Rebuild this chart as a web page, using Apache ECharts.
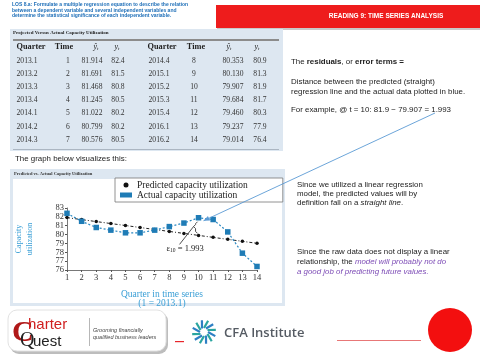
<!DOCTYPE html>
<html>
<head>
<meta charset="utf-8">
<script src="https://cdn.jsdelivr.net/npm/echarts@6/dist/echarts.min.js"></script>
<style>
html, body { margin: 0; padding: 0; background: #fff; }
#main { width: 480px; height: 360px; }
</style>
</head>
<body>
<div id="main"></div>
<script>
// table / chart data
var quarters = ['2013.1', '2013.2', '2013.3', '2013.4', '2014.1', '2014.2', '2014.3',
                '2014.4', '2015.1', '2015.2', '2015.3', '2015.4', '2016.1', '2016.2'];
var times = [1, 2, 3, 4, 5, 6, 7, 8, 9, 10, 11, 12, 13, 14];
var predicted = [81.914, 81.691, 81.468, 81.245, 81.022, 80.799, 80.576,
                 80.353, 80.130, 79.907, 79.684, 79.460, 79.237, 79.014];
var actual = [82.4, 81.5, 80.8, 80.5, 80.2, 80.2, 80.5,
              80.9, 81.3, 81.9, 81.7, 80.3, 77.9, 76.4];

var chart = echarts.init(document.getElementById('main'));

var serif = '"Liberation Serif", "DejaVu Serif", serif';
var sans = '"Liberation Sans", Arial, sans-serif';
var blueLine = '#2a88c2';
var blueText = '#3a9fd6';
var panelBg = '#dde7f1';
var bodyFont = '7.9px ' + sans;

function txt(x, y, text, style, extra) {
    var s = Object.assign({
        x: x, y: y, text: text,
        font: bodyFont, fill: '#222',
        textAlign: 'left', textVerticalAlign: 'middle'
    }, style || {});
    return Object.assign({ type: 'text', style: s, z: 5 }, extra || {});
}

var graphic = [];

// header
var los = ['LOS 8.a: Formulate a multiple regression equation to describe the relation',
           'between a dependent variable and several independent variables and',
           'determine the statistical significance of each independent variable.'];
los.forEach(function (l, i) {
    graphic.push(txt(12, 4.5 + i * 5.7, l, { font: 'bold 5px ' + sans, fill: '#1f6fb8' }));
});
graphic.push({ type: 'rect', shape: { x: 217, y: 7, width: 263, height: 23 }, style: { fill: '#c9c9c9' }, z: 1 });
graphic.push({ type: 'rect', shape: { x: 216, y: 5, width: 264, height: 23 }, style: { fill: '#ee1c1c' }, z: 2 });
graphic.push(txt(386, 16, 'READING 9: TIME SERIES ANALYSIS', { font: 'bold 6.5px ' + sans, fill: '#fff', textAlign: 'center' }));

// table panel
graphic.push({ type: 'rect', shape: { x: 10, y: 29, width: 273, height: 122 }, style: { fill: panelBg }, z: 1 });
graphic.push(txt(13, 33, 'Projected Versus Actual Capacity Utilization', { font: 'bold 5px ' + serif, fill: '#222' }));
graphic.push({ type: 'rect', shape: { x: 13, y: 39, width: 266, height: 2 }, style: { fill: '#8c8c8c' }, z: 2 });
graphic.push({ type: 'rect', shape: { x: 13, y: 149, width: 266, height: 0.8 }, style: { fill: '#9aa6b2' }, z: 2 });

var headCols = [31, 64, 96, 117, 162, 196, 229, 257];
var dataCols = [27, 68, 92, 118, 159, 194, 233, 260];
var heads = ['Quarter', 'Time', 'yhat', 'y', 'Quarter', 'Time', 'yhat', 'y'];
heads.forEach(function (h, i) {
    var t;
    if (h === 'yhat') t = '{i|ŷ}{s|t}';
    else if (h === 'y') t = '{i|y}{s|t}';
    else t = h;
    graphic.push({
        type: 'text', z: 5,
        style: {
            x: headCols[i], y: 47, text: t, textAlign: 'center', textVerticalAlign: 'middle',
            font: 'bold 8.3px ' + serif, fill: '#222',
            rich: {
                i: { fontFamily: serif, fontStyle: 'italic', fontSize: 8, fill: '#222' },
                s: { fontFamily: serif, fontStyle: 'italic', fontSize: 4.8, fill: '#222', padding: [4, 0, 0, 0] }
            }
        }
    });
});
for (var r = 0; r < 7; r++) {
    var yRow = 61 + r * 13.1;
    [r, r + 7].forEach(function (k, half) {
        var c = half * 4;
        var cells = [quarters[k], String(times[k]), predicted[k].toFixed(3), actual[k].toFixed(1)];
        cells.forEach(function (v, j) {
            graphic.push(txt(dataCols[c + j], yRow, v, { font: '7.6px ' + serif, fill: '#333', textAlign: 'center' }));
        });
    });
}

graphic.push(txt(15, 159, 'The graph below visualizes this:', { font: bodyFont, fill: '#222' }));

// chart panel
graphic.push({ type: 'rect', shape: { x: 10, y: 169, width: 275, height: 137 }, style: { fill: panelBg }, z: 0 });
graphic.push({ type: 'rect', shape: { x: 13, y: 179, width: 269, height: 124 }, style: { fill: '#fff' }, z: 0 });
graphic.push(txt(14, 174, 'Predicted vs. Actual Capacity Utilization', { font: 'bold 4.5px ' + serif, fill: '#333' }));

// right text
var rt = 291;
graphic.push(txt(rt, 62, 'The {b|residuals}, or {b|error terms =}', {
    rich: { b: { fontFamily: sans, fontWeight: 'bold', fontSize: 7.9, fill: '#222' } }
}));
graphic.push(txt(rt, 82, 'Distance between the predicted (straight)'));
graphic.push(txt(rt, 92, 'regression line and the actual data plotted in blue.'));
graphic.push(txt(rt, 110, 'For example, @ t = 10: 81.9 \u2212 79.907 = 1.993'));
var rt2 = 297;
graphic.push(txt(rt2, 185, 'Since we utilized a linear regression'));
graphic.push(txt(rt2, 194, 'model, the predicted values will by'));
graphic.push(txt(rt2, 203, 'definition fall on a {i|straight line}.', {
    rich: { i: { fontFamily: sans, fontStyle: 'italic', fontSize: 7.9, fill: '#222' } }
}));
graphic.push(txt(rt2, 252, 'Since the raw data does not display a linear'));
graphic.push(txt(rt2, 262, 'relationship, the {p|model will probably not do}', {
    rich: { p: { fontFamily: sans, fontStyle: 'italic', fontSize: 7.9, fill: '#7d4cb6' } }
}));
graphic.push(txt(rt2, 272, '{p|a good job of predicting future values.}', {
    rich: { p: { fontFamily: sans, fontStyle: 'italic', fontSize: 7.9, fill: '#7d4cb6' } }
}));

// footer: CharterQuest badge
graphic.push({ type: 'rect', shape: { x: 10, y: 312, width: 158, height: 42, r: 9 }, style: { fill: '#bdbdbd' }, z: 1 });
graphic.push({ type: 'rect', shape: { x: 8, y: 310, width: 158, height: 41, r: 9 }, style: { fill: '#fff', stroke: '#e2e2e2' }, z: 2 });
graphic.push(txt(12, 333, 'C', { font: 'bold 30px ' + serif, fill: '#b01818' }));
graphic.push(txt(28, 325, 'harter', { font: '15px ' + sans, fill: '#d01f1f' }));
graphic.push(txt(20, 341, 'Q', { font: '20px ' + serif, fill: '#222' }));
graphic.push(txt(33, 342, 'uest', { font: '15px ' + sans, fill: '#222' }));
graphic.push({ type: 'rect', shape: { x: 89, y: 318, width: 0.7, height: 28 }, style: { fill: '#999' }, z: 5 });
graphic.push(txt(93, 330, 'Grooming financially', { font: 'italic 5.5px ' + sans, fill: '#444' }));
graphic.push(txt(93, 337, 'qualified business leaders', { font: 'italic 5.5px ' + sans, fill: '#444' }));

// red dash, CFA logo, red line, red dot
graphic.push({ type: 'rect', shape: { x: 175, y: 341, width: 9, height: 1.2 }, style: { fill: '#e8262b' }, z: 2 });
for (var k = 0; k < 12; k++) {
    var ang = k * Math.PI / 6;
    graphic.push({
        type: 'line', z: 3,
        shape: {
            x1: 204 + 4 * Math.cos(ang), y1: 332 + 4 * Math.sin(ang),
            x2: 204 + 12 * Math.cos(ang + 0.35), y2: 332 + 12 * Math.sin(ang + 0.35)
        },
        style: { stroke: k % 2 ? '#2aa5a0' : '#2e7fc4', lineWidth: 2.2 }
    });
}
graphic.push(txt(224, 333, 'CFA Institute', { font: '600 13px "Open Sans", ' + sans, fill: '#555b63' }));
graphic.push({ type: 'rect', shape: { x: 337, y: 340, width: 84, height: 0.8 }, style: { fill: '#e04a4a' }, z: 2 });
graphic.push({ type: 'circle', shape: { cx: 450, cy: 330, r: 22 }, style: { fill: '#f30f0f' }, z: 2 });

var option = {
    animation: false,
    backgroundColor: '#fff',
    legend: {
        orient: 'vertical',
        left: 115,
        top: 178,
        padding: [2, 35, 2, 5],
        itemGap: 0,
        itemWidth: 12,
        itemHeight: 5,
        backgroundColor: '#fff',
        borderColor: '#777',
        borderWidth: 0.8,
        borderRadius: 0,
        textStyle: { fontFamily: serif, fontSize: 9.5, color: '#222', lineHeight: 9 },
        data: [
            { name: 'Predicted capacity utilization', icon: 'circle' },
            { name: 'Actual capacity utilization', icon: 'rect' }
        ]
    },
    grid: { left: 67, right: 223, top: 208, bottom: 90 },
    xAxis: {
        type: 'value',
        min: 1,
        max: 14,
        interval: 1,
        name: 'Quarter in time series\n(1 = 2013.1)',
        nameLocation: 'middle',
        nameGap: 20,
        nameTextStyle: { fontFamily: serif, fontSize: 9.5, color: blueText, lineHeight: 9 },
        axisLine: { lineStyle: { color: '#555', width: 0.8 } },
        axisTick: { length: 2, lineStyle: { color: '#555' } },
        axisLabel: { fontFamily: serif, fontSize: 8.5, color: '#333', margin: 3 },
        splitLine: { show: false }
    },
    yAxis: {
        type: 'value',
        min: 76,
        max: 83,
        interval: 1,
        name: 'Capacity\nutilization',
        nameLocation: 'middle',
        nameGap: 32,
        nameTextStyle: { fontFamily: serif, fontSize: 8, color: blueText, lineHeight: 11 },
        axisLine: { show: true, lineStyle: { color: '#555', width: 0.8 } },
        axisTick: { show: true, length: 2, lineStyle: { color: '#555' } },
        axisLabel: { fontFamily: serif, fontSize: 8.5, color: '#333', margin: 3 },
        splitLine: { show: false }
    },
    series: [
        {
            name: 'Predicted capacity utilization',
            type: 'line',
            symbol: 'circle',
            symbolSize: 3.5,
            itemStyle: { color: '#111' },
            lineStyle: { color: '#222', width: 1, type: [3, 2, 1, 2] },
            data: times.map(function (t, i) { return [t, predicted[i]]; }),
            z: 3
        },
        {
            name: 'Actual capacity utilization',
            type: 'line',
            symbol: 'rect',
            symbolSize: 5.5,
            itemStyle: { color: '#1f7cb6' },
            lineStyle: { color: blueLine, width: 1.2, type: [2, 2] },
            data: times.map(function (t, i) { return [t, actual[i]]; }),
            z: 4
        }
    ],
    graphic: graphic
};
chart.setOption(option);

// residual annotation at t = 10, placed through the axes
var pa = chart.convertToPixel({ gridIndex: 0 }, [times[9], actual[9]]);
var pp = chart.convertToPixel({ gridIndex: 0 }, [times[9], predicted[9]]);
var bx = pa[0] - 2;
var ym = (pa[1] + pp[1]) / 2;
var notes = [
    {
        type: 'polyline', z: 6,
        shape: { points: [[bx + 1, pa[1] + 4], [bx - 1, pa[1] + 6], [bx - 1, ym - 2], [bx - 3, ym],
                          [bx - 1, ym + 2], [bx - 1, pp[1] - 4], [bx + 1, pp[1] - 2]] },
        style: { stroke: '#222', lineWidth: 0.8, fill: null }
    },
    {
        type: 'line', z: 6,
        shape: { x1: bx - 3, y1: ym, x2: bx - 17, y2: pp[1] + 9 },
        style: { stroke: '#222', lineWidth: 0.8 }
    },
    {
        type: 'text', z: 6,
        style: {
            x: bx - 30, y: pp[1] + 13, text: 'ε{s|10} = 1.993',
            font: '8.5px ' + serif, fill: '#222', textVerticalAlign: 'middle',
            rich: { s: { fontFamily: serif, fontSize: 5.5, fill: '#222', padding: [4, 0, 0, 0] } }
        }
    },
    {
        type: 'line', z: 7,
        shape: { x1: 435, y1: 113, x2: pa[0] + 5, y2: pa[1] + 3 },
        style: { stroke: '#5b9bd5', lineWidth: 0.9 }
    }
];
// arrow head
var ax = pa[0] + 5, ay = pa[1] + 3;
var dx = 435 - ax, dy = 113 - ay, len = Math.sqrt(dx * dx + dy * dy);
var ux = dx / len, uy = dy / len;
notes.push({
    type: 'polygon', z: 7,
    shape: { points: [[ax, ay], [ax + ux * 6 - uy * 2.5, ay + uy * 6 + ux * 2.5], [ax + ux * 6 + uy * 2.5, ay + uy * 6 - ux * 2.5]] },
    style: { fill: '#5b9bd5' }
});
chart.setOption({ graphic: graphic.concat(notes) });
</script>
</body>
</html>
